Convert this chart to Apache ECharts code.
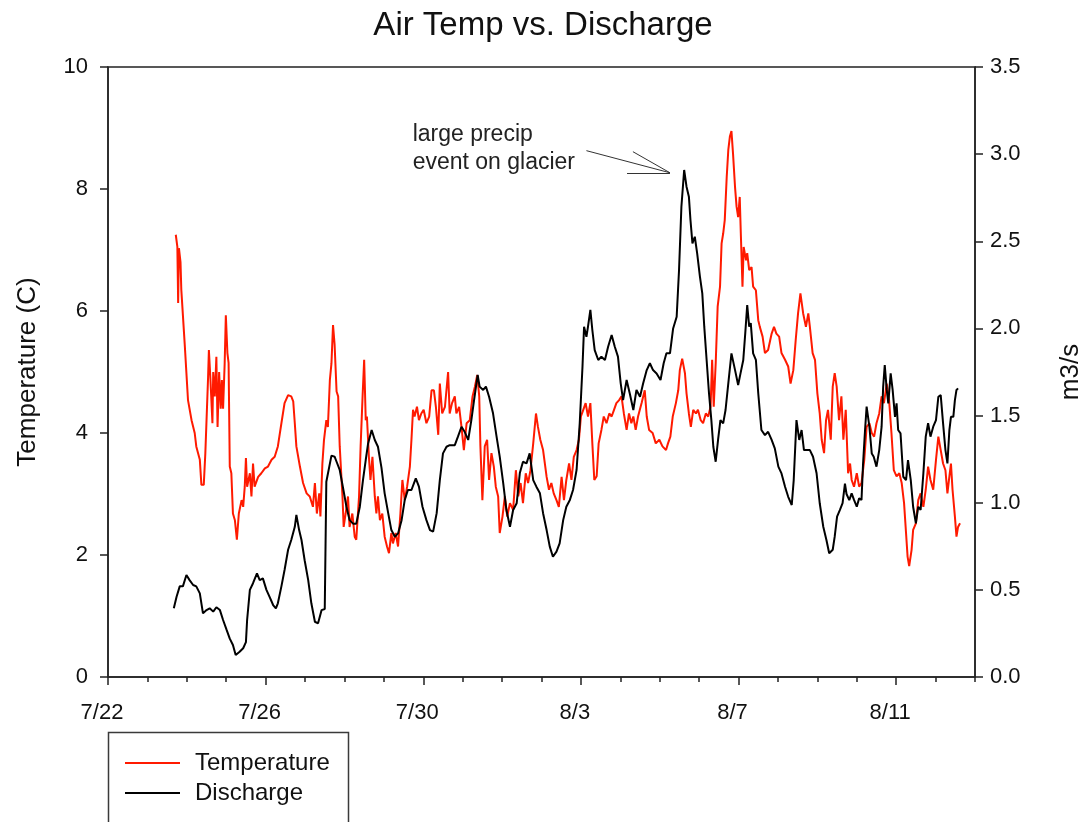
<!DOCTYPE html>
<html>
<head>
<meta charset="utf-8">
<title>Air Temp vs. Discharge</title>
<script src="https://cdn.jsdelivr.net/npm/echarts@6/dist/echarts.min.js"></script>
<style>
  html, body { margin: 0; padding: 0; background: #fff; }
  #chart { width: 1086px; height: 822px; }
</style>
</head>
<body>
<div id="chart"></div>
<script>
// Days are counted from 7/22 00:00.
const dateTicks = ['7/22', '7/26', '7/30', '8/3', '8/7', '8/11'];

// Air temperature (C): [day, value]
const temperature = [
  [1.72,7.25],[1.76,7.05],[1.78,6.13],[1.80,7.03],[1.84,6.8],[1.86,6.35],[1.95,5.42],[2.03,4.54],[2.12,4.21],[2.20,4.0],
  [2.24,3.78],[2.33,3.56],[2.37,3.15],[2.43,3.15],[2.47,3.67],[2.54,4.92],[2.56,5.36],[2.60,4.87],[2.65,4.16],[2.67,5.0],
  [2.71,4.6],[2.75,5.25],[2.78,4.1],[2.82,5.0],[2.86,4.4],[2.89,4.87],[2.92,4.4],[2.96,5.13],[2.99,5.93],[3.03,5.31],
  [3.06,5.15],[3.09,3.45],[3.13,3.34],[3.17,2.68],[3.22,2.57],[3.27,2.25],[3.32,2.68],[3.39,2.9],[3.43,2.79],[3.47,3.12],
  [3.50,3.59],[3.53,3.12],[3.60,3.34],[3.64,2.96],[3.68,3.5],[3.72,3.12],[3.81,3.28],[3.89,3.34],[3.98,3.42],[4.06,3.45],
  [4.15,3.56],[4.23,3.61],[4.31,3.78],[4.40,4.16],[4.48,4.49],[4.57,4.62],[4.65,4.6],[4.70,4.52],[4.74,4.16],[4.78,3.78],
  [4.87,3.45],[4.95,3.18],[5.04,3.01],[5.12,2.96],[5.20,2.79],[5.25,3.18],[5.30,2.68],[5.36,3.01],[5.39,2.63],[5.44,3.5],
  [5.48,3.88],[5.54,4.21],[5.58,4.1],[5.63,4.87],[5.67,5.14],[5.71,5.77],[5.75,5.45],[5.80,4.68],[5.84,4.6],[5.88,3.78],
  [5.95,2.96],[5.98,2.46],[6.03,2.68],[6.09,2.96],[6.13,2.46],[6.20,2.68],[6.26,2.3],[6.30,2.25],[6.37,2.96],[6.41,3.78],
  [6.46,4.6],[6.50,5.2],[6.54,4.21],[6.57,4.27],[6.62,3.61],[6.66,3.23],[6.71,3.61],[6.77,2.96],[6.81,2.68],[6.85,2.96],
  [6.90,2.57],[6.96,2.68],[7.02,2.3],[7.08,2.14],[7.13,2.03],[7.19,2.36],[7.23,2.19],[7.30,2.36],[7.36,2.14],[7.42,2.68],
  [7.47,3.23],[7.53,2.9],[7.59,3.12],[7.66,3.45],[7.70,3.89],[7.74,4.38],[7.78,4.27],[7.84,4.43],[7.89,4.21],[7.95,4.32],
  [8.01,4.38],[8.08,4.16],[8.15,4.27],[8.21,4.7],[8.27,4.7],[8.32,4.43],[8.38,3.97],[8.42,4.81],[8.48,4.32],[8.55,4.43],
  [8.63,5.0],[8.67,4.32],[8.73,4.49],[8.80,4.6],[8.84,4.32],[8.91,4.43],[8.97,4.1],[9.03,3.72],[9.10,4.16],[9.18,4.21],
  [9.25,4.6],[9.31,4.76],[9.37,4.95],[9.42,4.6],[9.45,3.78],[9.50,2.9],[9.56,3.78],[9.62,3.89],[9.67,3.23],[9.73,3.67],
  [9.79,3.45],[9.84,3.12],[9.90,2.96],[9.94,2.36],[10.01,2.63],[10.07,2.96],[10.13,2.63],[10.20,2.85],[10.28,2.74],[10.35,3.39],
  [10.41,2.96],[10.47,3.18],[10.53,2.85],[10.60,3.34],[10.66,3.18],[10.72,3.39],[10.79,3.83],[10.86,4.32],[10.91,4.1],[10.97,3.89],
  [11.04,3.72],[11.13,3.28],[11.19,3.07],[11.25,3.18],[11.31,3.01],[11.38,2.9],[11.44,2.79],[11.51,3.28],[11.57,2.9],[11.63,3.23],
  [11.70,3.5],[11.76,3.23],[11.82,3.61],[11.89,3.72],[11.95,3.89],[12.00,4.27],[12.06,4.38],[12.12,4.49],[12.18,4.27],[12.24,4.49],
  [12.29,3.83],[12.34,3.23],[12.40,3.29],[12.45,3.83],[12.52,4.05],[12.58,4.27],[12.65,4.16],[12.72,4.32],[12.78,4.27],[12.84,4.38],
  [12.90,4.49],[12.97,4.54],[13.03,4.6],[13.09,4.32],[13.16,4.05],[13.22,4.32],[13.28,4.16],[13.33,4.27],[13.39,4.05],[13.45,4.27],
  [13.54,4.49],[13.62,4.7],[13.67,4.27],[13.73,4.05],[13.82,4.0],[13.90,3.83],[13.99,3.89],[14.07,3.78],[14.16,3.72],[14.21,3.83],
  [14.27,3.94],[14.33,4.27],[14.41,4.49],[14.47,4.7],[14.51,5.03],[14.57,5.22],[14.64,4.98],[14.68,4.65],[14.74,4.32],[14.79,4.1],
  [14.85,4.38],[14.92,4.32],[14.97,4.38],[15.04,4.21],[15.10,4.16],[15.17,4.32],[15.23,4.27],[15.29,4.43],[15.33,5.2],[15.37,4.43],
  [15.42,5.14],[15.47,6.07],[15.53,6.4],[15.57,7.11],[15.61,7.27],[15.65,7.49],[15.70,8.2],[15.74,8.64],[15.78,8.86],[15.82,8.95],
  [15.86,8.58],[15.91,8.04],[15.95,7.71],[15.99,7.54],[16.03,7.87],[16.06,7.22],[16.10,6.4],[16.13,7.05],[16.19,6.83],[16.22,6.95],
  [16.27,6.67],[16.33,6.72],[16.37,6.4],[16.44,6.34],[16.50,5.85],[16.54,5.74],[16.61,5.58],[16.67,5.31],[16.75,5.36],[16.84,5.63],
  [16.90,5.74],[16.96,5.63],[17.03,5.58],[17.09,5.31],[17.18,5.2],[17.26,5.09],[17.32,4.81],[17.39,5.03],[17.45,5.52],[17.51,5.96],
  [17.57,6.29],[17.64,5.96],[17.71,5.74],[17.77,5.96],[17.81,5.74],[17.88,5.31],[17.94,5.2],[18.00,4.65],[18.06,4.32],[18.11,3.89],
  [18.17,3.67],[18.22,4.21],[18.27,4.38],[18.34,3.89],[18.39,4.76],[18.44,4.98],[18.49,4.76],[18.55,4.21],[18.61,4.6],[18.66,3.89],
  [18.72,4.38],[18.78,3.34],[18.83,3.5],[18.87,3.23],[18.93,3.12],[19.00,3.34],[19.06,3.12],[19.12,3.18],[19.19,3.56],[19.25,4.1],
  [19.32,4.16],[19.38,4.0],[19.44,3.94],[19.50,4.16],[19.57,4.32],[19.63,4.6],[19.69,4.49],[19.76,4.81],[19.82,4.54],[19.88,4.0],
  [19.94,3.39],[20.01,3.29],[20.08,3.34],[20.14,3.18],[20.20,2.85],[20.25,2.36],[20.29,1.97],[20.33,1.82],[20.39,2.08],[20.43,2.41],
  [20.50,2.52],[20.56,2.9],[20.62,3.01],[20.69,2.79],[20.75,3.07],[20.81,3.45],[20.87,3.23],[20.94,3.07],[21.01,3.56],[21.07,3.94],
  [21.13,3.72],[21.19,3.5],[21.25,3.39],[21.30,3.01],[21.35,3.29],[21.39,3.5],[21.43,3.07],[21.49,2.63],[21.53,2.3],[21.57,2.46],
  [21.62,2.52]
];

// Stream discharge (m3/s): [day, value]
const discharge = [
  [1.67,0.394],[1.74,0.46],[1.82,0.52],[1.90,0.52],[1.99,0.585],[2.07,0.556],[2.16,0.528],[2.24,0.52],[2.33,0.48],[2.41,0.365],
  [2.50,0.384],[2.58,0.394],[2.67,0.375],[2.75,0.40],[2.84,0.384],[2.92,0.327],[3.01,0.27],[3.09,0.22],[3.17,0.184],[3.24,0.126],
  [3.34,0.145],[3.43,0.165],[3.50,0.2],[3.53,0.327],[3.60,0.5],[3.68,0.538],[3.78,0.595],[3.85,0.556],[3.93,0.566],[4.02,0.5],
  [4.10,0.46],[4.19,0.413],[4.26,0.394],[4.31,0.423],[4.40,0.52],[4.48,0.614],[4.57,0.73],[4.65,0.786],[4.74,0.862],[4.78,0.93],
  [4.85,0.843],[4.91,0.786],[4.99,0.67],[5.08,0.556],[5.16,0.423],[5.25,0.317],[5.33,0.308],[5.42,0.384],[5.50,0.39],[5.52,0.39],
  [5.54,1.12],[5.67,1.27],[5.75,1.264],[5.80,1.235],[5.88,1.188],[5.96,1.09],[6.05,0.977],[6.13,0.9],[6.22,0.88],[6.30,0.88],
  [6.39,0.977],[6.47,1.13],[6.54,1.245],[6.60,1.34],[6.69,1.417],[6.77,1.36],[6.85,1.321],[6.94,1.2],[7.02,1.054],[7.11,0.94],
  [7.19,0.843],[7.28,0.805],[7.36,0.824],[7.45,0.9],[7.53,1.016],[7.61,1.073],[7.70,1.073],[7.81,1.14],[7.89,1.092],[7.98,0.977],
  [8.08,0.9],[8.17,0.843],[8.25,0.834],[8.34,0.94],[8.42,1.13],[8.50,1.283],[8.59,1.321],[8.67,1.33],[8.80,1.33],[8.88,1.379],
  [8.97,1.436],[9.05,1.407],[9.14,1.36],[9.22,1.474],[9.29,1.59],[9.38,1.733],[9.43,1.666],[9.52,1.647],[9.59,1.666],[9.67,1.608],
  [9.77,1.513],[9.86,1.379],[9.94,1.264],[10.03,1.11],[10.11,0.958],[10.20,0.862],[10.28,0.958],[10.37,0.997],[10.45,1.17],[10.53,1.235],
  [10.62,1.226],[10.70,1.283],[10.79,1.13],[10.87,1.092],[10.96,1.054],[11.04,0.94],[11.13,0.843],[11.21,0.748],[11.29,0.69],[11.38,0.719],
  [11.46,0.767],[11.55,0.9],[11.63,0.977],[11.72,1.016],[11.80,1.073],[11.89,1.188],[11.97,1.456],[12.04,1.78],[12.08,2.01],[12.14,1.952],
  [12.18,2.01],[12.24,2.106],[12.29,1.991],[12.35,1.876],[12.44,1.819],[12.52,1.838],[12.61,1.819],[12.69,1.895],[12.78,1.962],[12.86,1.895],
  [12.94,1.838],[13.01,1.685],[13.07,1.589],[13.16,1.704],[13.24,1.627],[13.33,1.532],[13.41,1.647],[13.50,1.608],[13.58,1.685],[13.67,1.761],
  [13.75,1.8],[13.83,1.761],[13.92,1.742],[14.02,1.704],[14.10,1.8],[14.17,1.857],[14.26,1.857],[14.34,2.0],[14.43,2.067],[14.49,2.335],
  [14.55,2.698],[14.62,2.909],[14.68,2.813],[14.74,2.756],[14.78,2.622],[14.83,2.488],[14.89,2.526],[14.95,2.431],[15.02,2.297],[15.08,2.201],
  [15.13,2.01],[15.19,1.819],[15.25,1.628],[15.31,1.474],[15.36,1.321],[15.42,1.235],[15.48,1.36],[15.54,1.474],[15.61,1.455],[15.67,1.532],
  [15.74,1.685],[15.82,1.857],[15.91,1.762],[15.99,1.675],[16.05,1.742],[16.12,1.819],[16.17,1.972],[16.22,2.134],[16.27,2.01],[16.31,2.03],
  [16.37,1.857],[16.44,1.82],[16.50,1.628],[16.58,1.417],[16.67,1.388],[16.75,1.407],[16.84,1.36],[16.92,1.312],[17.01,1.207],[17.09,1.168],
  [17.18,1.092],[17.26,1.034],[17.35,0.987],[17.40,1.13],[17.47,1.474],[17.54,1.36],[17.60,1.417],[17.66,1.302],[17.73,1.302],[17.81,1.302],
  [17.89,1.264],[17.98,1.169],[18.06,0.997],[18.15,0.862],[18.23,0.786],[18.30,0.71],[18.39,0.73],[18.44,0.805],[18.50,0.92],[18.57,0.958],
  [18.64,0.997],[18.70,1.11],[18.74,1.05],[18.81,1.015],[18.87,1.054],[18.93,1.016],[19.00,0.977],[19.06,1.025],[19.12,1.016],[19.16,1.226],
  [19.21,1.417],[19.25,1.551],[19.32,1.436],[19.38,1.283],[19.43,1.264],[19.50,1.207],[19.57,1.302],[19.63,1.436],[19.67,1.666],[19.71,1.79],
  [19.76,1.647],[19.80,1.57],[19.86,1.742],[19.91,1.647],[19.97,1.493],[20.01,1.57],[20.05,1.417],[20.11,1.398],[20.18,1.149],[20.25,1.13],
  [20.30,1.245],[20.37,1.13],[20.43,0.977],[20.50,0.882],[20.56,0.977],[20.62,0.958],[20.69,1.169],[20.75,1.379],[20.81,1.456],[20.87,1.379],
  [20.94,1.436],[21.01,1.474],[21.07,1.608],[21.13,1.617],[21.19,1.455],[21.25,1.302],[21.30,1.226],[21.35,1.417],[21.39,1.493],[21.45,1.493],
  [21.49,1.589],[21.53,1.647],[21.57,1.656]
];

// Callout for the precipitation event, in [day, m3/s] coordinates
const calloutText = 'large precip\nevent on glacier';
const calloutAnchor = [7.73, 3.03];
const calloutTip = [14.26, 2.893];
const calloutTail = [12.14, 3.02];
const arrowHeadA = [13.32, 3.014];
const arrowHeadB = [13.17, 2.893];

const FONT = '"Liberation Sans", Arial, sans-serif';
const INK = '#111';
const AXIS = '#222';

const chart = echarts.init(document.getElementById('chart'), null, { renderer: 'canvas' });

chart.setOption({
  animation: false,
  backgroundColor: '#fff',
  textStyle: { fontFamily: FONT },
  title: {
    text: 'Air Temp vs. Discharge',
    left: 'center',
    top: 4,
    textStyle: { fontFamily: FONT, fontSize: 33, fontWeight: 'normal', color: INK }
  },
  // Legend frame, open at the bottom edge of the page
  graphic: [
    {
      type: 'rect',
      silent: true,
      z: 90,
      shape: { x: 108.5, y: 732.5, width: 240, height: 140 },
      style: { fill: '#fff', stroke: '#3a3a3a', lineWidth: 1.5 }
    }
  ],
  legend: {
    orient: 'vertical',
    left: 108,
    top: 732,
    padding: [19, 20, 4, 17],
    itemGap: 6,
    itemWidth: 55,
    itemHeight: 2,
    icon: 'rect',
    z: 100,
    borderWidth: 0,
    selectedMode: false,
    textStyle: { fontFamily: FONT, fontSize: 24, color: INK, lineHeight: 24, padding: [0, 0, 0, 10] },
    data: ['Temperature', 'Discharge']
  },
  grid: {
    left: 108,
    right: 111,
    top: 67,
    bottom: 145,
    outerBoundsMode: 'none',
    containLabel: false,
    show: true,
    borderColor: AXIS,
    borderWidth: 1.5,
    backgroundColor: 'transparent'
  },
  xAxis: [
    {
      type: 'value',
      min: 0,
      max: 22,
      interval: 4,
      position: 'bottom',
      splitLine: { show: false },
      axisLine: { show: true, onZero: false, lineStyle: { color: AXIS, width: 1.5 } },
      axisTick: { show: true, inside: false, length: 8, lineStyle: { color: AXIS, width: 1.5 } },
      axisLabel: {
        show: true,
        margin: 25,
        padding: [0, 12, 0, 0],
        fontFamily: FONT,
        fontSize: 22,
        color: INK,
        showMaxLabel: false,
        formatter: v => (v % 4 === 0 ? (dateTicks[v / 4] || '') : '')
      }
    },
    {
      type: 'value',
      min: 0,
      max: 22,
      interval: 1,
      position: 'bottom',
      splitLine: { show: false },
      axisLine: { show: false, onZero: false },
      axisTick: { show: true, inside: false, length: 5, lineStyle: { color: AXIS, width: 1.5 } },
      axisLabel: { show: false }
    }
  ],
  yAxis: [
    {
      type: 'value',
      min: 0,
      max: 10,
      interval: 2,
      position: 'left',
      name: 'Temperature (C)',
      nameLocation: 'middle',
      nameGap: 67,
      nameRotate: 90,
      nameTextStyle: { fontFamily: FONT, fontSize: 26, color: INK },
      splitLine: { show: false },
      axisLine: { show: true, onZero: false, lineStyle: { color: AXIS, width: 1.5 } },
      axisTick: { show: true, inside: false, length: 8, lineStyle: { color: AXIS, width: 1.5 } },
      axisLabel: { margin: 20, fontFamily: FONT, fontSize: 22, color: INK }
    },
    {
      type: 'value',
      min: 0,
      max: 3.5,
      interval: 0.5,
      position: 'right',
      name: 'm3/s',
      nameLocation: 'middle',
      nameGap: 83,
      nameRotate: 90,
      nameTextStyle: { fontFamily: FONT, fontSize: 26, color: INK },
      splitLine: { show: false },
      axisLine: { show: true, onZero: false, lineStyle: { color: AXIS, width: 1.5 } },
      axisTick: { show: true, inside: false, length: 8, lineStyle: { color: AXIS, width: 1.5 } },
      axisLabel: { margin: 15, fontFamily: FONT, fontSize: 22, color: INK, formatter: v => v.toFixed(1) }
    }
  ],
  series: [
    {
      name: 'Temperature',
      type: 'line',
      xAxisIndex: 0,
      yAxisIndex: 0,
      data: temperature,
      symbol: 'none',
      showSymbol: false,
      silent: true,
      itemStyle: { color: '#ff1a00' },
      lineStyle: { color: '#ff1a00', width: 2 }
    },
    {
      name: 'Discharge',
      type: 'line',
      xAxisIndex: 0,
      yAxisIndex: 1,
      data: discharge,
      symbol: 'none',
      showSymbol: false,
      silent: true,
      itemStyle: { color: '#000' },
      lineStyle: { color: '#000', width: 2 },
      markLine: {
        silent: true,
        symbol: ['none', 'none'],
        label: { show: false },
        lineStyle: { color: '#333', width: 1, type: 'solid' },
        emphasis: { disabled: true },
        data: [
          [{ coord: calloutTail }, { coord: calloutTip }],
          [{ coord: arrowHeadA }, { coord: calloutTip }],
          [{ coord: arrowHeadB }, { coord: calloutTip }]
        ]
      },
      markPoint: {
        silent: true,
        symbol: 'circle',
        symbolSize: 0,
        data: [{ coord: calloutAnchor }],
        label: {
          show: true,
          position: 'right',
          distance: 0,
          formatter: calloutText,
          align: 'left',
          fontFamily: FONT,
          fontSize: 23,
          lineHeight: 28,
          color: '#222'
        }
      }
    }
  ]
});
</script>
</body>
</html>
